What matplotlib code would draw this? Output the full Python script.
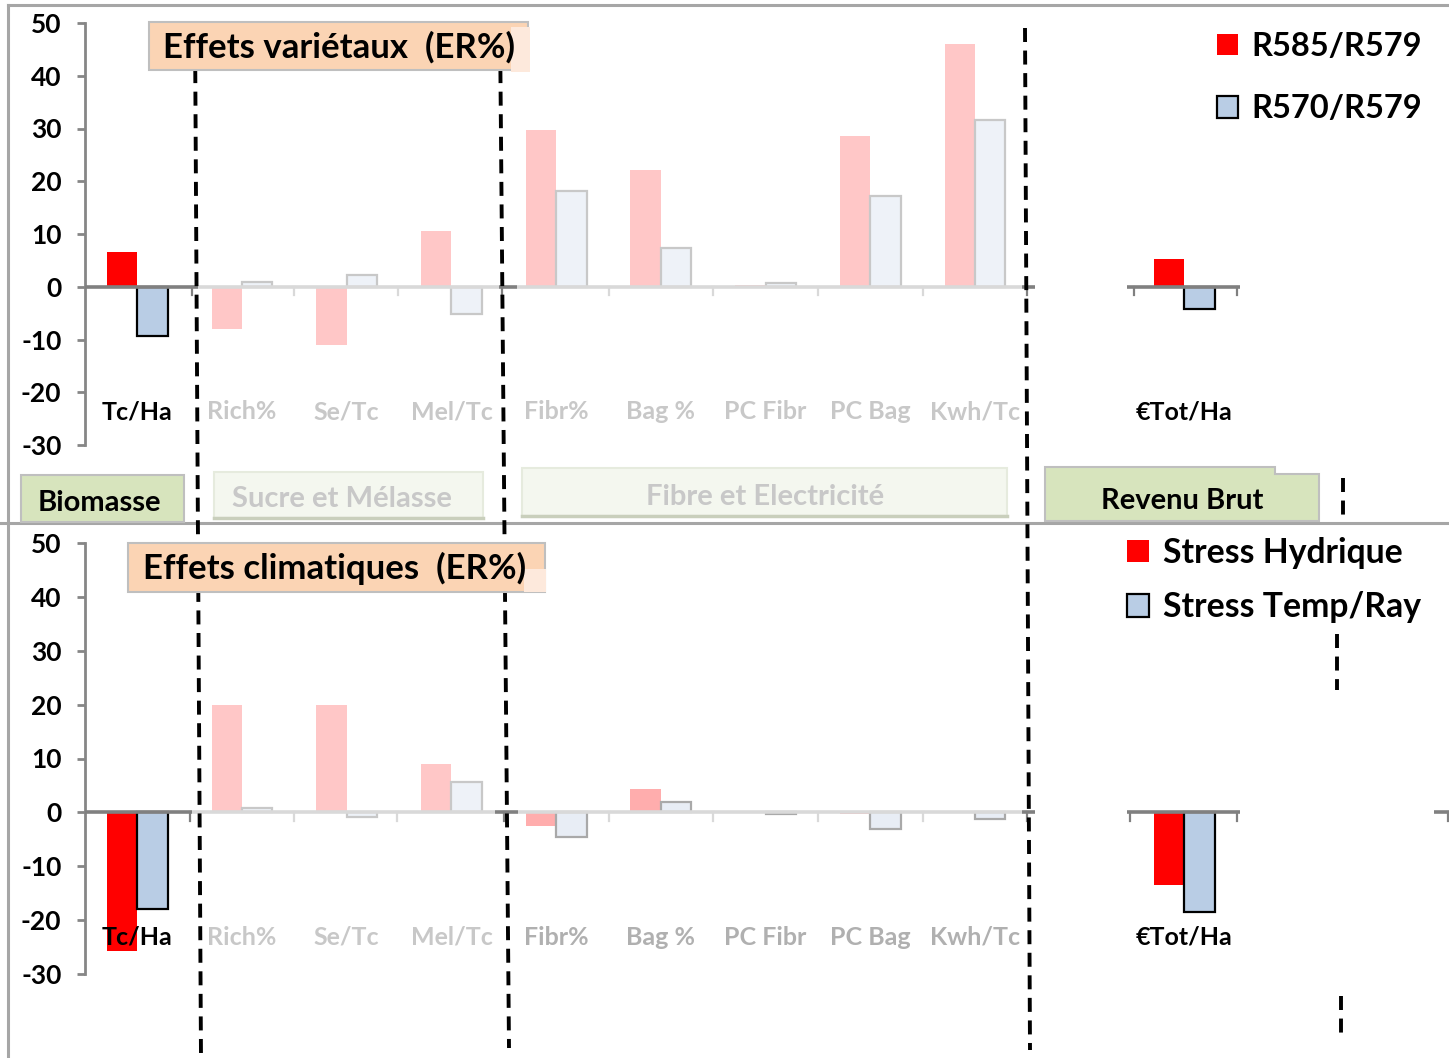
import numpy as np
import matplotlib.pyplot as plt
from matplotlib.patches import Rectangle, Polygon
from matplotlib.lines import Line2D

plt.rcParams['font.family'] = ['Lato', 'DejaVu Sans']
plt.rcParams['font.weight'] = 'bold'
plt.rcParams['axes.unicode_minus'] = False

# categories and slot on the x axis (slot 9 left empty)
categories = ['Tc/Ha', 'Rich%', 'Se/Tc', 'Mel/Tc', 'Fibr%', 'Bag %', 'PC Fibr', 'PC Bag', 'Kwh/Tc', '€Tot/Ha']
x_pos = [0, 1, 2, 3, 4, 5, 6, 7, 8, 10]
groups = [0, 1, 1, 1, 2, 2, 2, 2, 2, 3]   # 0 biomasse, 1 sucre, 2 fibre, 3 revenu

# varietal effects (ER%)
var_r585 = [6.5, -8.0, -11.0, 10.6, 29.8, 22.2, 0.3, 28.5, 46.0, 5.2]
var_r570 = [-9.3, 0.9, 2.2, -5.2, 18.2, 7.3, 0.7, 17.2, 31.6, -4.3]
# climatic effects (ER%)
clim_hyd = [-25.8, 20.0, 20.0, 9.0, -2.6, 4.4, -0.2, -0.3, -0.2, -13.4]
clim_temp = [-18.0, 0.9, -0.8, 5.6, -4.5, 1.9, -0.3, -3.0, -1.3, -18.4]

var_labels = ['R585/R579', 'R570/R579']
clim_labels = ['Stress Hydrique', 'Stress Temp/Ray']
group_names = ['Biomasse', 'Sucre et Mélasse', 'Fibre et Electricité', 'Revenu Brut']

W, H = 1449, 1058
fig = plt.figure(figsize=(W / 100, H / 100), dpi=100)

def fx(x):
    return x / W

def fy(y):
    return 1 - y / H

RED = '#FF0000'
BLUE = '#B9CDE5'
AXGREY = '#868686'
LIGHT = '#D9D9D9'
UNIT = 104.7   # pixels per category slot
BW = 0.29

# colours for faded groups: (red fill, blue fill, blue edge, label colour)
faded_top = {1: ('#FFC7C7', '#EEF2F8', '#C8C8C8', '#C8C8C8'),
             2: ('#FFC7C7', '#EEF2F8', '#C8C8C8', '#C8C8C8')}
faded_bot = {1: ('#FFC7C7', '#EEF2F8', '#C8C8C8', '#C8C8C8'),
             2: ('#FFADAD', '#E8EDF5', '#A9A9A9', '#B0B0B0')}


def panel(left, y_top, y_bot, red_vals, blue_vals, faded, label_y, segs, ticks):
    ax = fig.add_axes([fx(left), fy(y_bot), (W - left) / W, (y_bot - y_top) / H])
    ax.set_xlim(-0.5, -0.5 + (W - left) / UNIT)
    ax.set_ylim(-30, 50)
    ax.patch.set_alpha(0)
    for s in ['top', 'right', 'bottom']:
        ax.spines[s].set_visible(False)
    ax.spines['left'].set_color(AXGREY)
    ax.spines['left'].set_linewidth(2)
    ax.set_xticks([])
    ax.set_yticks(np.arange(-30, 51, 10))
    ax.tick_params(axis='y', length=6, width=2, color=AXGREY, pad=11,
                   labelsize=19, labelcolor='black')

    red_c, blue_c, blue_e, lab_c = [], [], [], []
    for g in groups:
        if g in faded:
            rc, bc, be, lc = faded[g]
        else:
            rc, bc, be, lc = RED, BLUE, 'black', 'black'
        red_c.append(rc)
        blue_c.append(bc)
        blue_e.append(be)
        lab_c.append(lc)

    xs = np.array(x_pos, dtype=float)
    b1 = ax.bar(xs - BW / 2, red_vals, BW, color=red_c, linewidth=0, zorder=3)
    b2 = ax.bar(xs + BW / 2, blue_vals, BW, color=blue_c, edgecolor=blue_e,
                linewidth=1.6, zorder=3)

    # zero line pieces and their little ticks
    for x0, x1, c in segs:
        ax.plot([x0, x1], [0, 0], color=c, lw=2.6, solid_capstyle='butt', zorder=4)
    for xt, c in ticks:
        ax.plot([xt, xt], [0, -1.6], color=c, lw=1.6, zorder=4)

    for x, lab, c in zip(x_pos, categories, lab_c):
        ax.text(x, label_y, lab, ha='center', va='center', fontsize=18,
                color=c, fontweight='bold', zorder=5)
    return ax, b1, b2


DK = '#808080'
segs_top = [(-0.5, 0.58, DK), (0.58, 3.45, LIGHT), (3.45, 3.63, DK), (3.63, 8.45, LIGHT),
            (8.45, 8.57, DK), (9.45, 10.53, DK)]
ticks_top = [(0.52, DK), (1.5, LIGHT), (2.49, LIGHT), (3.48, DK), (4.5, LIGHT), (5.5, LIGHT),
             (6.5, LIGHT), (7.5, LIGHT), (8.5, DK), (9.52, DK), (10.5, DK)]
segs_bot = [(-0.5, 0.52, DK), (0.52, 3.42, LIGHT), (3.42, 3.64, DK), (3.64, 8.45, LIGHT),
            (8.45, 8.57, DK), (9.45, 10.53, DK), (12.38, 12.6, DK)]
ticks_bot = [(0.5, DK), (1.5, LIGHT), (2.48, LIGHT), (3.5, DK), (4.5, LIGHT), (5.5, LIGHT),
             (6.5, LIGHT), (7.5, LIGHT), (8.5, DK), (9.48, DK), (10.5, DK), (12.52, DK)]

ax1, r1, s1 = panel(85, 23, 445, var_r585, var_r570, faded_top, -23.7, segs_top, ticks_top)
ax2, r2, s2 = panel(85, 543, 974, clim_hyd, clim_temp, faded_bot, -23.2, segs_bot, ticks_bot)

leg_kw = dict(frameon=False, handlelength=0.64, handleheight=0.64, handletextpad=0.42,
              borderpad=0, borderaxespad=0, loc='upper left', bbox_transform=fig.transFigure)
ax1.legend([r1, s1], var_labels, bbox_to_anchor=(fx(1217), fy(32)), labelspacing=1.02,
           prop={'weight': 'bold', 'size': 23.5}, **leg_kw)
ax2.legend([r2, s2], clim_labels, bbox_to_anchor=(fx(1127), fy(537)), labelspacing=0.66,
           prop={'weight': 'bold', 'size': 24.3}, **leg_kw)

# frame lines of the two panels
for xy in [((8, 1449), (5, 5)), ((8, 8), (5, 1058)), ((0, 1449), (523, 523))]:
    fig.add_artist(Line2D([fx(v) for v in xy[0]], [fy(v) for v in xy[1]],
                          color='#A6A6A6', lw=2.2, zorder=1))

# dashed separators between the groups
dash = dict(color='black', lw=2.8, linestyle=(0, (3.6, 2.2)), zorder=2)
for (x0, y0), (x1, y1) in [((195, 24), (201, 1058)), ((500, 24), (509, 1048)),
                           ((1025, 28), (1030, 1050)), ((1343, 478), (1343, 518)),
                           ((1337, 634), (1337, 690)), ((1341, 996), (1341, 1040))]:
    fig.add_artist(Line2D([fx(x0), fx(x1)], [fy(y0), fy(y1)], **dash))


def box(x0, y0, x1, y1, fc, ec, lw=1.5, z=6):
    fig.add_artist(Rectangle((fx(x0), fy(y1)), (x1 - x0) / W, (y1 - y0) / H, facecolor=fc,
                             edgecolor=ec, linewidth=lw, transform=fig.transFigure, zorder=z))


# panel titles
box(149, 22, 528, 70, '#FBD4B4', '#BFBFBF')
box(511, 27, 530, 72, '#FDE9DC', 'none', lw=0, z=6.5)
fig.text(fx(339), fy(47), 'Effets variétaux  (ER%)', ha='center', va='center',
         fontsize=25, fontweight='bold', zorder=7)
box(128, 543, 545, 592, '#FBD4B4', '#BFBFBF')
box(524, 569, 546, 592, '#FDE9DC', 'none', lw=0, z=6.5)
fig.text(fx(335), fy(568), 'Effets climatiques  (ER%)', ha='center', va='center',
         fontsize=25, fontweight='bold', zorder=7)

# group name boxes under the varietal panel
box(21, 475, 184, 522, '#D7E4BD', '#BFBFBF')
fig.text(fx(99), fy(503), group_names[0], ha='center', va='center', fontsize=21,
         fontweight='bold', zorder=7)
box(214, 472, 483, 518, '#F4F7EF', '#E6EBDE')
fig.add_artist(Line2D([fx(214), fx(483)], [fy(518), fy(518)], color='#C9CFBC', lw=2.5, zorder=6))
fig.text(fx(342), fy(499), group_names[1], ha='center', va='center', fontsize=21,
         fontweight='bold', color='#C8C8C8', zorder=7)
box(522, 468, 1007, 516, '#F4F7EF', '#E6EBDE')
fig.add_artist(Line2D([fx(522), fx(1007)], [fy(516), fy(516)], color='#C9CFBC', lw=2.5, zorder=6))
fig.text(fx(765), fy(497), group_names[2], ha='center', va='center', fontsize=21,
         fontweight='bold', color='#C8C8C8', zorder=7)
rev = [(1045, 467), (1275, 467), (1275, 474), (1319, 474), (1319, 521), (1045, 521)]
fig.add_artist(Polygon([(fx(a), fy(b)) for a, b in rev], closed=True, facecolor='#D7E4BD',
                       edgecolor='#BFBFBF', linewidth=1.5, transform=fig.transFigure, zorder=6))
fig.text(fx(1182), fy(501), group_names[3], ha='center', va='center', fontsize=21,
         fontweight='bold', zorder=7)

fig.savefig('out.png', dpi=100, facecolor='white')
